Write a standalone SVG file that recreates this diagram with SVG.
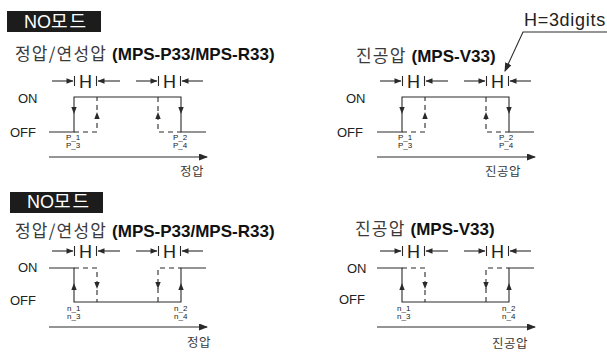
<svg xmlns="http://www.w3.org/2000/svg" xmlns:xlink="http://www.w3.org/1999/xlink" width="607" height="353" viewBox="0 0 607 353">
<style>
text{font-family:"Liberation Sans","Noto Sans CJK KR",Arial,sans-serif;fill:#222}
.ko{font-family:"Noto Sans CJK KR","Liberation Sans",sans-serif;fill:#3a3a3a;letter-spacing:1.2px}
.t{font-size:17px}
.b{font-weight:bold;fill:#111;letter-spacing:0}
.h{font-size:18px;text-anchor:middle}
.lbl{font-size:13px}
.sm{font-size:8px}
.ax{font-size:12.5px;letter-spacing:0.5px}
.ln{fill:none;stroke:#2a2a2a;stroke-width:1.1}
.ds{fill:none;stroke:#2a2a2a;stroke-width:1.1;stroke-dasharray:5 4}
.box{fill:#1c1c1c}
.bt{font-size:18px;fill:#fff}
.ah{fill:#2a2a2a}
</style>
<defs>
<polygon id="dn" class="ah" points="-2.7,-7 2.7,-7 0,0"/>
<polygon id="up" class="ah" points="-2.7,7 2.7,7 0,0"/>
<polygon id="rt" class="ah" points="0,0 -7,-2.7 -7,2.7"/>
<polygon id="lf" class="ah" points="0,0 7,-2.7 7,2.7"/>
<marker id="axh" markerWidth="10" markerHeight="8" refX="8" refY="3.5" orient="auto" markerUnits="userSpaceOnUse">
<polygon points="0,0 9,3.5 0,7" fill="#2a2a2a"/>
</marker>
<marker id="ldh" markerWidth="10" markerHeight="8" refX="8" refY="3.5" orient="auto" markerUnits="userSpaceOnUse">
<polygon points="0,0 9,3.5 0,7" fill="#2a2a2a"/>
</marker>
<g id="hm1">
<line class="ln" x1="52" y1="0" x2="73" y2="0"/><use xlink:href="#rt" x="73.5" y="0"/>
<line class="ln" x1="74.5" y1="-5" x2="74.5" y2="5"/>
<line class="ln" x1="96.5" y1="-5" x2="96.5" y2="5"/>
<use xlink:href="#lf" x="97.5" y="0"/><line class="ln" x1="98" y1="0" x2="120" y2="0"/>
<line class="ln" x1="136" y1="0" x2="157" y2="0"/><use xlink:href="#rt" x="157.5" y="0"/>
<line class="ln" x1="158.5" y1="-5" x2="158.5" y2="5"/>
<line class="ln" x1="180.5" y1="-5" x2="180.5" y2="5"/>
<use xlink:href="#lf" x="181.5" y="0"/><line class="ln" x1="182" y1="0" x2="203" y2="0"/>
</g>
</defs>

<g id="panel-top-left">
<g id="tl-head">
<rect class="box" x="7" y="11" width="94" height="21"/>
<text class="bt" x="24" y="28">NO<tspan class="ko" style="fill:#fff;letter-spacing:2px">모드</tspan></text>
<text class="t" x="15" y="60"><tspan class="ko">정압/연성압 </tspan><tspan class="b">(MPS-P33/MPS-R33)</tspan></text>
</g>
<g id="tl-hyst">
<use xlink:href="#hm1" x="0" y="81"/>
<text class="h" x="85.5" y="87.5">H</text>
<text class="h" x="169.5" y="87.5">H</text>
</g>
<text class="lbl" x="18" y="103">ON</text>
<text class="lbl" x="10" y="137">OFF</text>
<g id="tl-conn">
<path class="ln" d="M49,132H74V97H181V132H206"/>
<path class="ds" d="M74,132H97V97"/>
<path class="ds" d="M158,97V132H181"/>
<use xlink:href="#dn" x="74" y="114"/>
<use xlink:href="#dn" x="181" y="114"/>
<use xlink:href="#up" x="97" y="112"/>
<use xlink:href="#up" x="158" y="112"/>
<line class="ln" x1="49" y1="157" x2="207" y2="157" marker-end="url(#axh)"/>
</g>
<text class="sm" x="66" y="140">P_1</text>
<text class="sm" x="66" y="148">P_3</text>
<text class="sm" x="173" y="140">P_2</text>
<text class="sm" x="173" y="148">P_4</text>
<text class="ko ax" x="180" y="176">정압</text>
</g>

<g id="panel-top-right">
<text class="t" x="356" y="62"><tspan class="ko">진공압 </tspan><tspan class="b">(MPS-V33)</tspan></text>
<g id="tr-hyst">
<use xlink:href="#hm1" x="328" y="81"/>
<text class="h" x="413.5" y="87.5">H</text>
<text class="h" x="497.5" y="87.5">H</text>
</g>
<text class="lbl" x="346" y="103">ON</text>
<text class="lbl" x="337" y="137">OFF</text>
<g id="tr-conn" transform="translate(328,0)">
<path class="ln" d="M49,132H74V97H181V132H206"/>
<path class="ds" d="M74,132H97V97"/>
<path class="ds" d="M158,97V132H181"/>
<use xlink:href="#dn" x="74" y="114"/>
<use xlink:href="#dn" x="181" y="114"/>
<use xlink:href="#up" x="97" y="112"/>
<use xlink:href="#up" x="158" y="112"/>
<line class="ln" x1="49" y1="157" x2="207" y2="157" marker-end="url(#axh)"/>
</g>
<text class="sm" x="398" y="140">P_1</text>
<text class="sm" x="398" y="148">P_3</text>
<text class="sm" x="499" y="140">P_2</text>
<text class="sm" x="499" y="148">P_4</text>
<text class="ko ax" x="485" y="176">진공압</text>
<g id="h-note">
<text x="524" y="26" style="font-size:18px;letter-spacing:0.7px">H=3digits</text>
<path class="ln" d="M607,32H523L505,71" marker-end="url(#ldh)"/>
</g>
</g>

<g id="panel-bottom-left">
<rect class="box" x="10" y="192" width="93" height="21"/>
<text class="bt" x="27" y="208">NO<tspan class="ko" style="fill:#fff;letter-spacing:2px">모드</tspan></text>
<text class="t" x="15" y="237"><tspan class="ko">정압/연성압 </tspan><tspan class="b">(MPS-P33/MPS-R33)</tspan></text>
<g id="bl-hyst">
<use xlink:href="#hm1" x="0" y="251"/>
<text class="h" x="85.5" y="257.5">H</text>
<text class="h" x="169.5" y="257.5">H</text>
</g>
<text class="lbl" x="18" y="272">ON</text>
<text class="lbl" x="10" y="305">OFF</text>
<g id="bl-conn">
<path class="ln" d="M49,268H74V302H181V268H206"/>
<path class="ds" d="M74,268H97V302"/>
<path class="ds" d="M158,302V268H181"/>
<use xlink:href="#up" x="74" y="283"/>
<use xlink:href="#up" x="181" y="283"/>
<use xlink:href="#dn" x="97" y="289"/>
<use xlink:href="#dn" x="158" y="289"/>
<line class="ln" x1="49" y1="327" x2="207" y2="327" marker-end="url(#axh)"/>
</g>
<text class="sm" x="67" y="311">n_1</text>
<text class="sm" x="67" y="319">n_3</text>
<text class="sm" x="174" y="311">n_2</text>
<text class="sm" x="174" y="319">n_4</text>
<text class="ko ax" x="187" y="347">정압</text>
</g>

<g id="panel-bottom-right">
<text class="t" x="355" y="235"><tspan class="ko">진공압 </tspan><tspan class="b">(MPS-V33)</tspan></text>
<g id="br-hyst">
<use xlink:href="#hm1" x="328" y="251"/>
<text class="h" x="413.5" y="257.5">H</text>
<text class="h" x="497.5" y="257.5">H</text>
</g>
<text class="lbl" x="347" y="273">ON</text>
<text class="lbl" x="339" y="304">OFF</text>
<g id="br-conn" transform="translate(328,0)">
<path class="ln" d="M49,268H74V302H181V268H206"/>
<path class="ds" d="M74,268H97V302"/>
<path class="ds" d="M158,302V268H181"/>
<use xlink:href="#up" x="74" y="283"/>
<use xlink:href="#up" x="181" y="283"/>
<use xlink:href="#dn" x="97" y="289"/>
<use xlink:href="#dn" x="158" y="289"/>
<line class="ln" x1="49" y1="327" x2="207" y2="327" marker-end="url(#axh)"/>
</g>
<text class="sm" x="397" y="311">n_1</text>
<text class="sm" x="397" y="319">n_3</text>
<text class="sm" x="502" y="311">n_2</text>
<text class="sm" x="502" y="319">n_4</text>
<text class="ko ax" x="492" y="348">진공압</text>
</g>
</svg>
